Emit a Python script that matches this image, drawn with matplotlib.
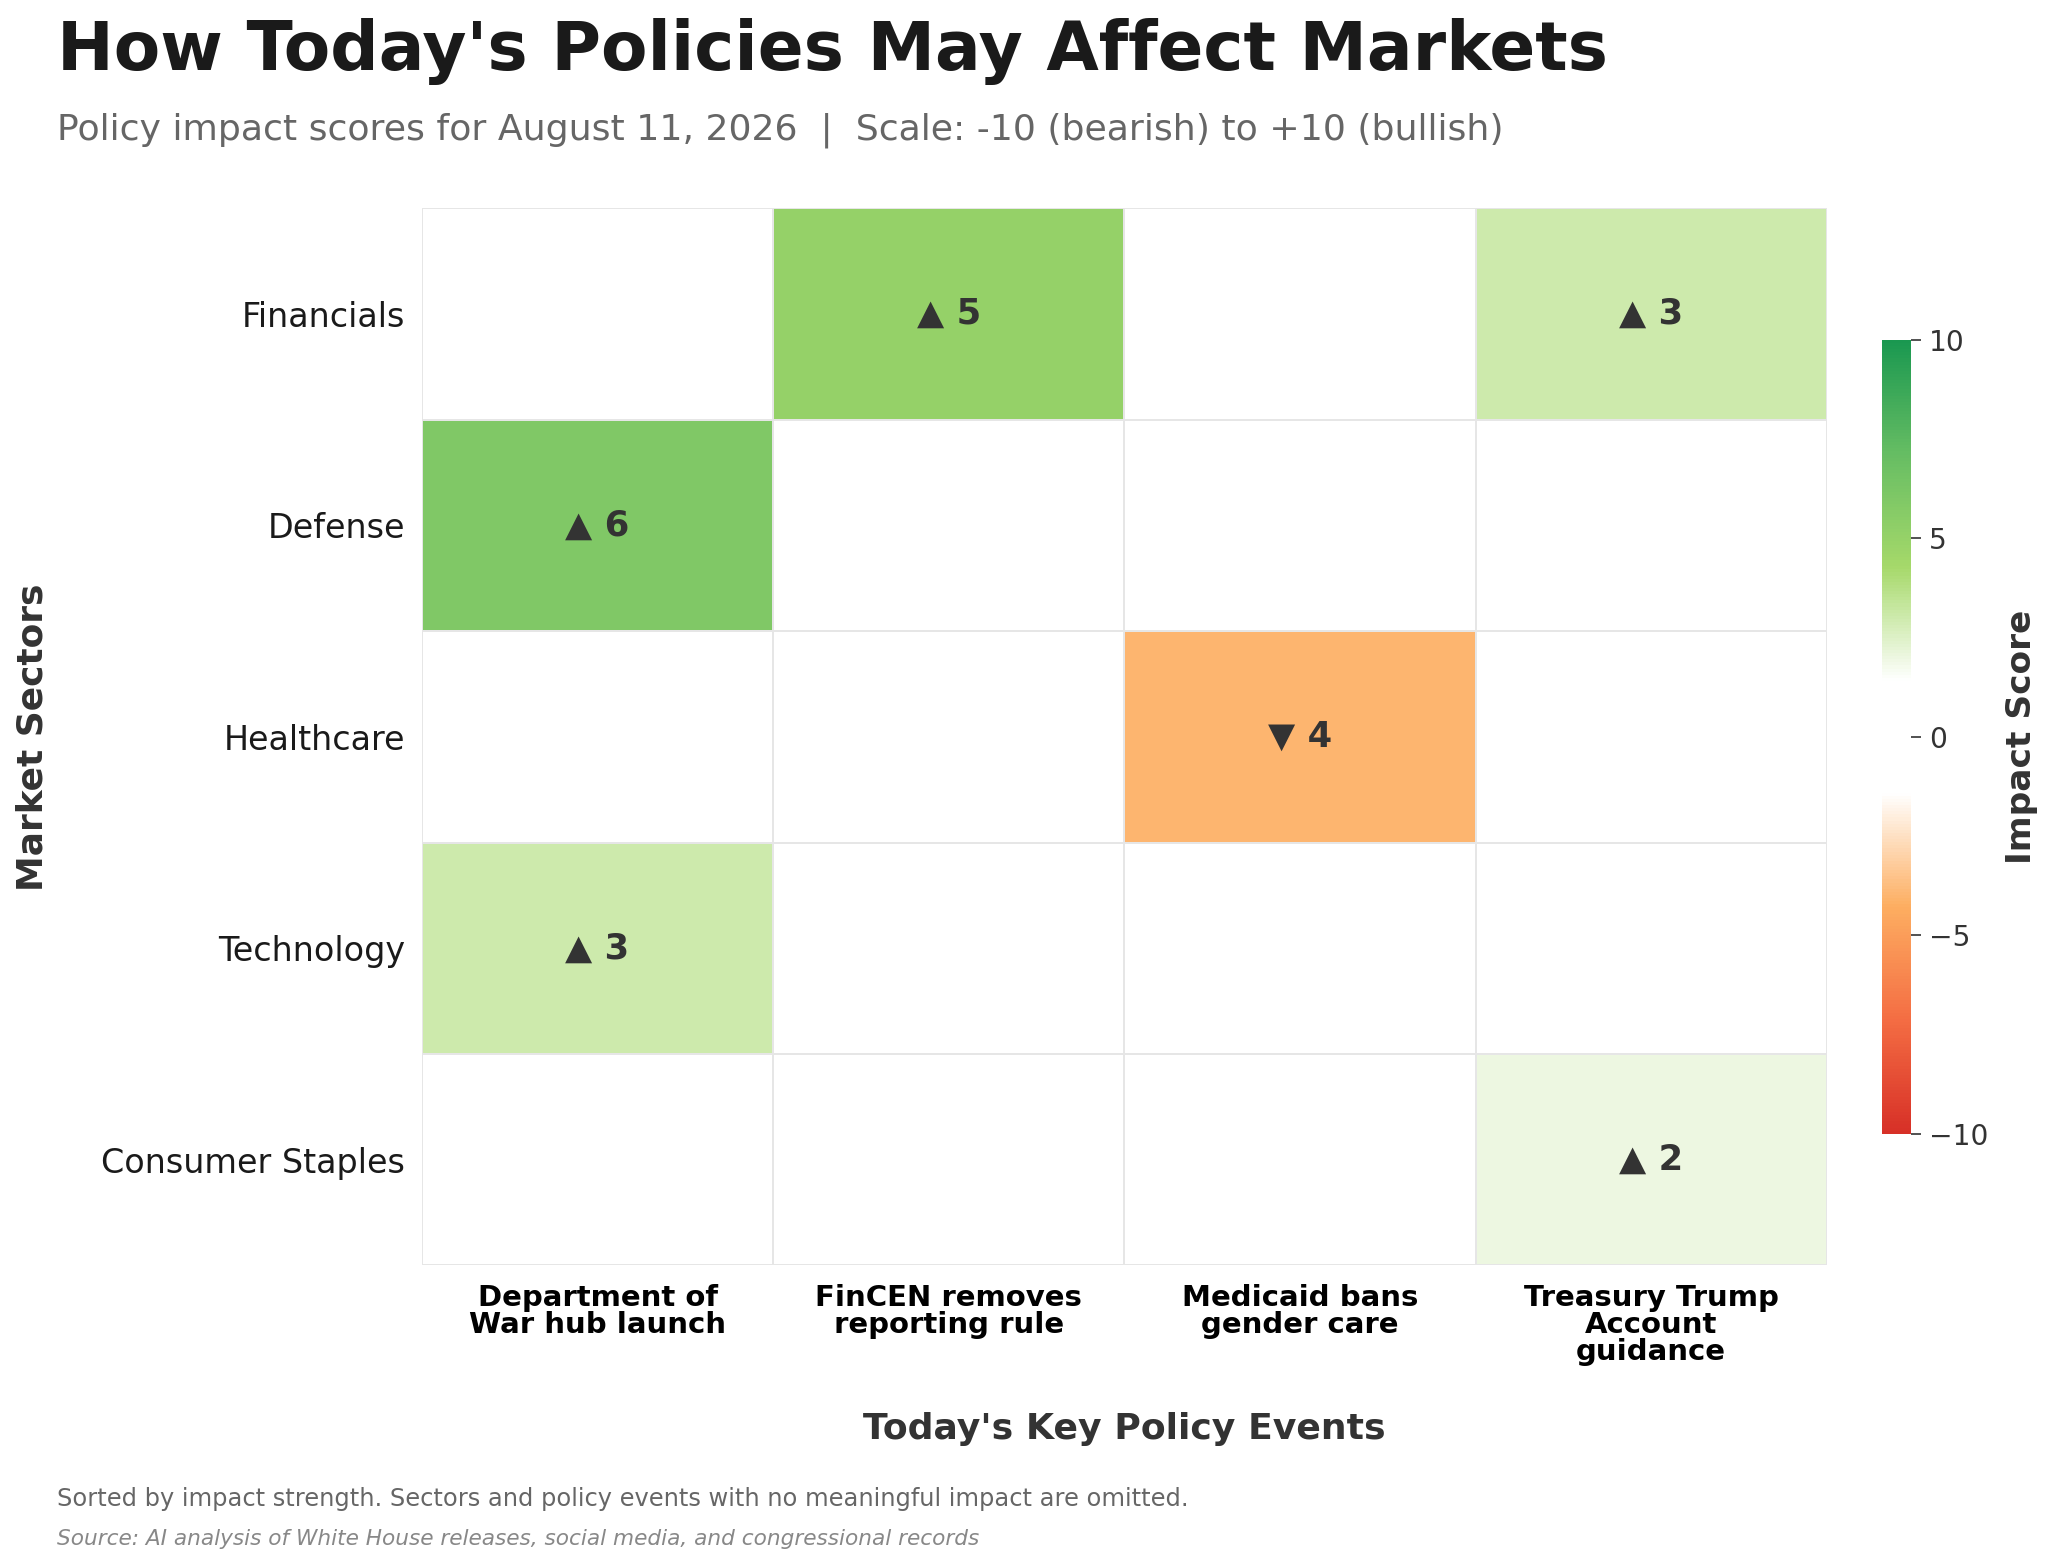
import numpy as np
import matplotlib
matplotlib.use('Agg')
import matplotlib.pyplot as plt
from matplotlib.colors import LinearSegmentedColormap, Normalize

# Data
sectors = ['Financials', 'Defense', 'Healthcare', 'Technology', 'Consumer Staples']
events = ['Department of\nWar hub launch',
          'FinCEN removes\nreporting rule',
          'Medicaid bans\ngender care',
          'Treasury Trump\nAccount\nguidance']
scores = np.array([
    [0, 5, 0, 3],
    [6, 0, 0, 0],
    [0, 0, -4, 0],
    [3, 0, 0, 0],
    [0, 0, 0, 2],
])
cbar_ticks = [-10, -5, 0, 5, 10]

# Colour map: red -> orange -> white band -> green
cmap = LinearSegmentedColormap.from_list(
    'impact', ['#d73027', '#f46d43', '#fdae61', '#ffffff',
               '#ffffff', '#a6d96a', '#66bd63', '#1a9850'])
norm = Normalize(vmin=-10, vmax=10)

fig = plt.figure(figsize=(2048 / 150, 1566 / 150), dpi=150)
ax = fig.add_axes([0.206, 0.192, 0.686, 0.675])
cax = fig.add_axes([0.919, 0.276, 0.0142, 0.507])

mesh = ax.pcolormesh(scores, cmap=cmap, norm=norm,
                     edgecolors='#e6e6e6', linewidth=0.8)
ax.set_xlim(0, len(events))
ax.set_ylim(len(sectors), 0)

# Cell labels
for i in range(len(sectors)):
    for j in range(len(events)):
        v = scores[i, j]
        if v == 0:
            continue
        arrow = '\u25B2' if v > 0 else '\u25BC'
        ax.text(j + 0.5, i + 0.5, f'{arrow} {abs(v)}', ha='center', va='center',
                fontsize=17, fontweight='bold', color='#333333')

ax.set_xticks(np.arange(len(events)) + 0.5)
ax.set_xticklabels(events, fontsize=14, fontweight='bold', color='black',
                   linespacing=0.95)
ax.set_yticks(np.arange(len(sectors)) + 0.5)
ax.set_yticklabels(sectors, fontsize=16, color='#1a1a1a')
ax.tick_params(axis='both', length=0)
ax.tick_params(axis='x', pad=9)
ax.tick_params(axis='y', pad=8)
for s in ax.spines.values():
    s.set_visible(False)

ax.set_xlabel("Today's Key Policy Events", fontsize=17.4, fontweight='bold',
              color='#333333', labelpad=22)
ax.set_ylabel('Market Sectors', fontsize=17.3, fontweight='bold', color='#333333')
ax.yaxis.set_label_coords(-0.265, 0.5)

# Colorbar
cb = fig.colorbar(mesh, cax=cax, ticks=cbar_ticks)
cb.outline.set_visible(False)
cb.ax.tick_params(labelsize=13.5, colors='#333333', length=5, width=0.8)
cb.set_label('Impact Score', fontsize=16.5, fontweight='bold', color='#333333',
             labelpad=8)

# Titles and notes
fig.text(0.028, 0.955, "How Today's Policies May Affect Markets", fontsize=32.5,
         fontweight='bold', color='#1a1a1a', va='baseline')
fig.text(0.028, 0.911,
         'Policy impact scores for August 11, 2026  |  Scale: -10 (bearish) to +10 (bullish)',
         fontsize=17.4, color='#666666', va='baseline')
fig.text(0.028, 0.038,
         'Sorted by impact strength. Sectors and policy events with no meaningful impact are omitted.',
         fontsize=11.6, color='#666666', va='baseline')
fig.text(0.028, 0.0134,
         'Source: AI analysis of White House releases, social media, and congressional records',
         fontsize=10.4, color='#888888', style='italic', va='baseline')

fig.savefig('out.png', dpi=150, facecolor='white')
